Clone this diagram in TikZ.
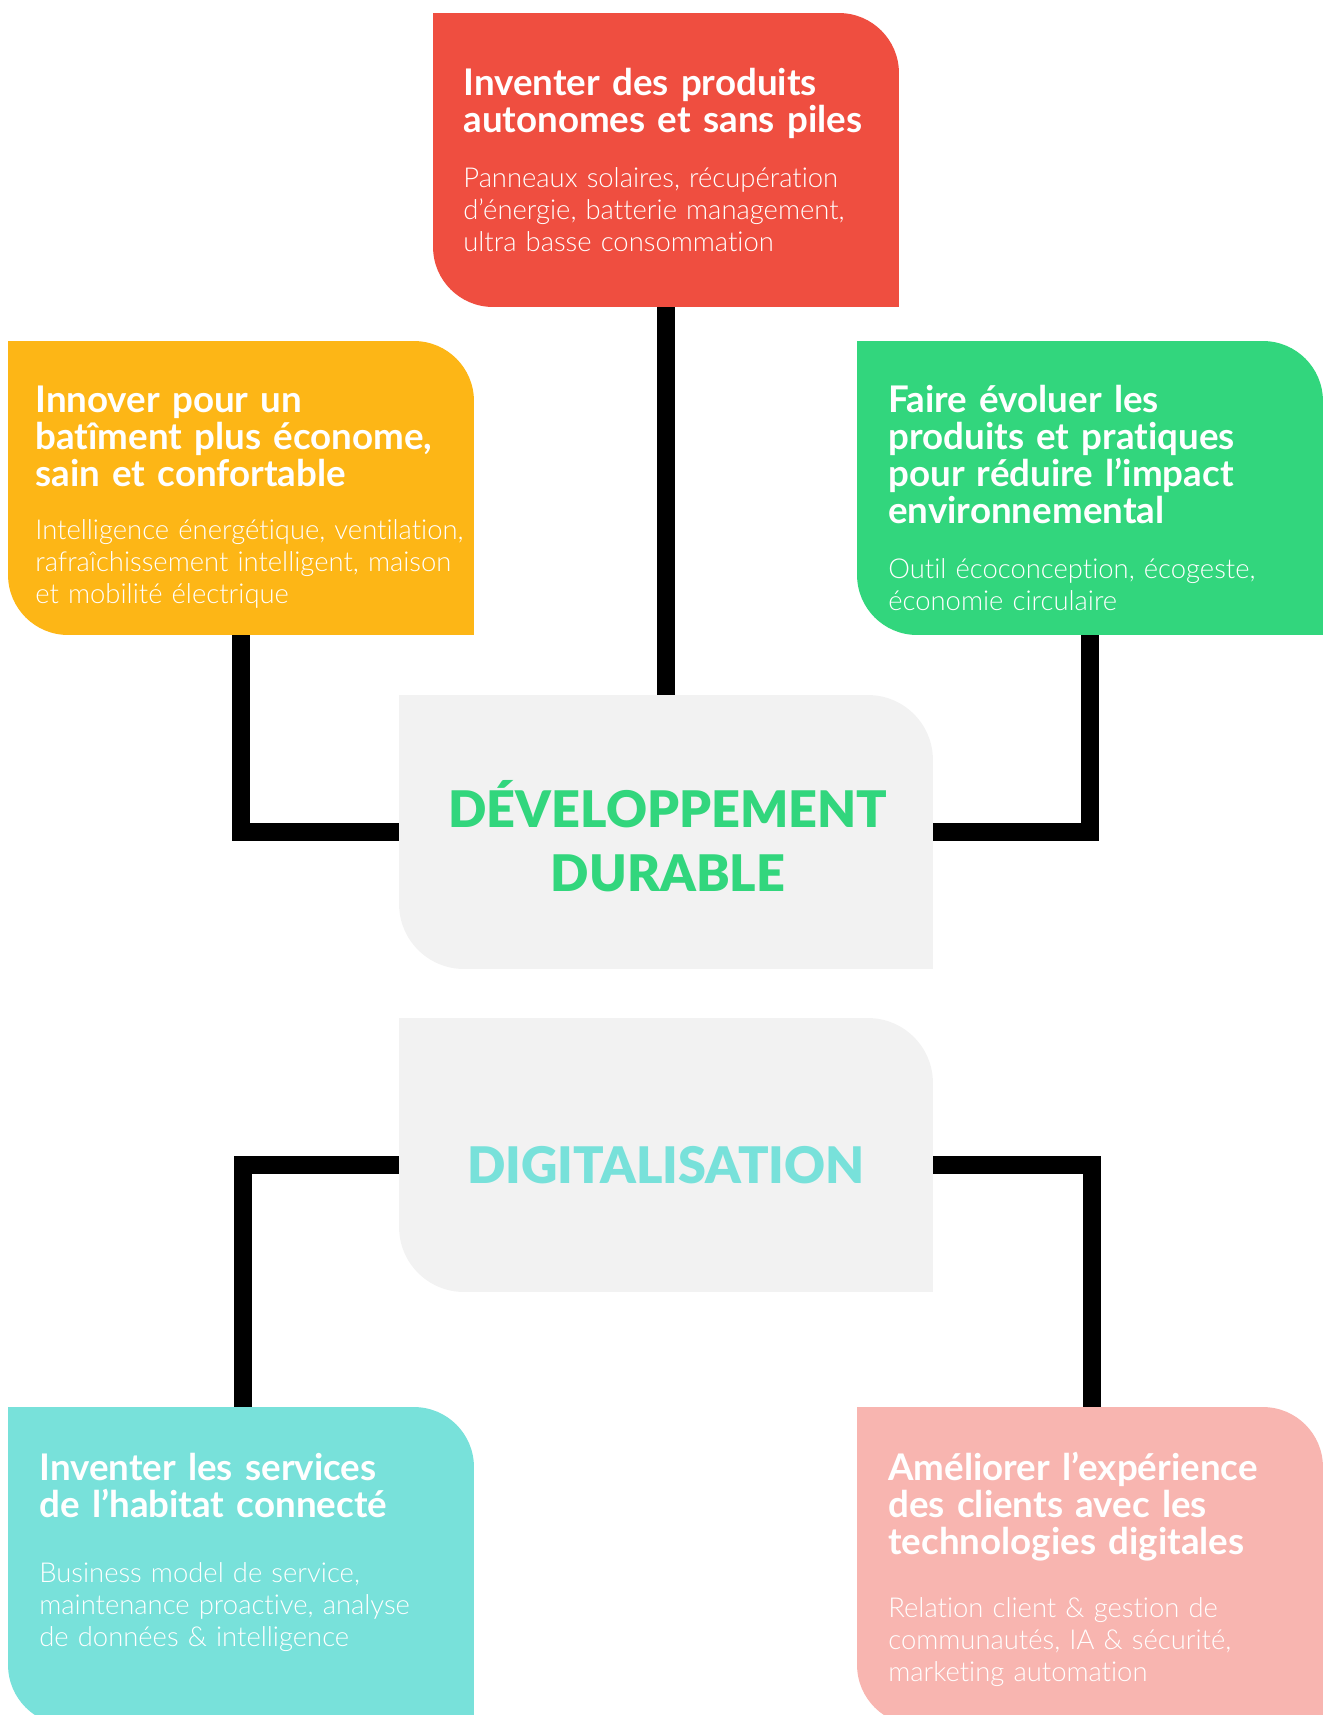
\documentclass[tikz,border=0pt]{standalone}
\usepackage{fontspec}
\setmainfont{Lato}[Ligatures=NoCommon]
\IfFontExistsTF{Lato Light}{\newfontfamily\latolight{Lato Light}[Ligatures=NoCommon]}{\newfontfamily\latolight{Lato}[Ligatures=NoCommon]}
\IfFontExistsTF{Lato Black}{\newfontfamily\latoblack{Lato Black}[Ligatures=NoCommon]}{\newcommand{\latoblack}{\bfseries}}
\usetikzlibrary{positioning, calc}
\definecolor{cardred}{RGB}{239,78,64}
\definecolor{cardyellow}{RGB}{253,182,22}
\definecolor{cardgreen}{RGB}{50,214,125}
\definecolor{cardcyan}{RGB}{120,225,218}
\definecolor{cardpink}{RGB}{248,181,176}
\definecolor{hubgrey}{RGB}{242,242,242}

\tikzset{
    card/.style={rectangle, inner sep=0pt, fill=#1, minimum width=9.32cm, minimum height=5.88cm, rounded corners=1.2cm,
        append after command={\pgfextra{
            \fill[#1, sharp corners] (\tikzlastnode.north west) rectangle ++(1.3cm,-1.3cm);
            \fill[#1, sharp corners] (\tikzlastnode.south east) rectangle ++(-1.3cm,1.3cm);}}},
    hub/.style={rectangle, inner sep=0pt, fill=hubgrey, minimum width=10.68cm, minimum height=5.48cm, rounded corners=1.3cm,
        append after command={\pgfextra{
            \fill[hubgrey, sharp corners] (\tikzlastnode.north west) rectangle ++(1.4cm,-1.4cm);
            \fill[hubgrey, sharp corners] (\tikzlastnode.south east) rectangle ++(-1.4cm,1.4cm);}}},
    cardtitle/.style={anchor=base west, inner sep=0pt, text=white, text width=9cm, align=left,
        font=\fontsize{20.9}{21.2}\selectfont\bfseries},
    cardbody/.style={anchor=base west, inner sep=0pt, text=white, text width=9cm, align=left,
        font=\fontsize{15.6}{18.3}\selectfont\latolight},
    hubtext/.style={anchor=base, inner sep=0pt, text width=10cm, align=center,
        font=\fontsize{28.7}{36.8}\selectfont\latoblack},
    link/.style={line width=10.5pt, line join=miter, black},
}

\begin{document}
\begin{tikzpicture}[x=0.02cm, y=-0.02cm]
    \useasboundingbox (0,0) rectangle (1325,1715);
    \clip (0,0) rectangle (1325,1715);

    % themes
    \node[hub] (dd) at (666,832) {};
    \node[hub] (digi) at (666,1155) {};
    \node[hubtext, text=cardgreen] (ddlabel) at (668,827) {DÉVELOPPEMENT\\DURABLE};
    \node[hubtext, text=cardcyan] (digilabel) at (666,1183) {DIGITALISATION};

    % cards
    \node[card=cardred] (prod) at (666,160) {};
    \node[card=cardyellow] (home) at (241,488) {};
    \node[card=cardgreen] (eco) at (1090,488) {};
    \node[card=cardcyan, minimum height=6.36cm] (habitat) at (241,1566) {};
    \node[card=cardpink, minimum height=6.36cm] (client) at (1090,1566) {};

    \node[cardtitle] (prodtitle) at (463,95) {Inventer des produits\\autonomes et sans piles};
    \node[cardbody] (prodbody) at (463,187) {Panneaux solaires, récupération\\d’énergie, batterie management,\\ultra basse consommation};
    \node[cardtitle] (hometitle) at (35,412) {Innover pour un\\batîment plus économe,\\sain et confortable};
    \node[cardbody] (homebody) at (35,539) {Intelligence énergétique, ventilation,\\rafraîchissement intelligent, maison\\et mobilité électrique};
    \node[cardtitle] (ecotitle) at (888,412) {Faire évoluer les\\produits et pratiques\\pour réduire l’impact\\environnemental};
    \node[cardbody] (ecobody) at (888,578) {Outil écoconception, écogeste,\\économie circulaire};
    \node[cardtitle] (habitattitle) at (39,1480) {Inventer les services\\de l’habitat connecté};
    \node[cardbody] (habitatbody) at (39,1582) {Business model de service,\\maintenance proactive, analyse\\de données \& intelligence};
    \node[cardtitle] (clienttitle) at (888,1480) {Améliorer l’expérience\\des clients avec les\\technologies digitales};
    \node[cardbody] (clientbody) at (888,1617) {Relation client \& gestion de\\communautés, IA \& sécurité,\\marketing automation};

    % connectors
    \draw[link] (prod.south) -- (dd.north);
    \draw[link] (home.south) |- (dd.west);
    \draw[link] (eco.south) |- (dd.east);
    \draw[link] ($(digi.west)+(0,10)$) -| ($(habitat.north)+(2,0)$);
    \draw[link] ($(digi.east)+(0,10)$) -| ($(client.north)+(2,0)$);
\end{tikzpicture}
\end{document}
